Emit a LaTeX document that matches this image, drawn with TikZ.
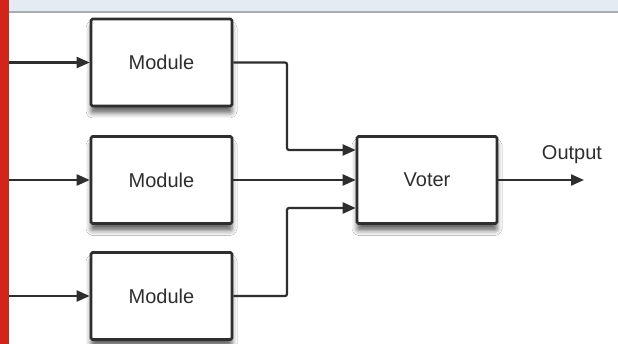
\documentclass[tikz,border=0pt]{standalone}
\usepackage{fontspec}
\setmainfont{Liberation Sans}
\usetikzlibrary{arrows.meta,shadows.blur,calc}
\definecolor{band}{HTML}{E5EBF2}
\definecolor{bandline}{HTML}{A8ACB0}
\definecolor{redbar}{HTML}{D3241A}
\definecolor{ink}{HTML}{2E2E2E}
\tikzset{
  box/.style={draw=ink, line width=2.6pt, fill=white, minimum width=141pt, minimum height=87pt,
    inner sep=0pt, rounded corners=1.5pt, text=ink, font=\fontsize{20}{24}\selectfont,
    blur shadow={shadow xshift=0pt, shadow yshift=-7pt, shadow blur radius=5pt, shadow opacity=60}},
  arr/.style={draw=ink, line width=2.2pt, rounded corners=2pt, -{Triangle[length=13pt,width=11pt]}},
  lbl/.style={text=ink, font=\fontsize{20}{24}\selectfont, inner sep=0pt}
}
\begin{document}
\begin{tikzpicture}[x=1pt,y=-1pt]
\useasboundingbox (0,0) rectangle (618,344);
\fill[white] (0,0) rectangle (618,344);
\fill[band] (0,0) rectangle (618,11);
\fill[bandline] (0,11) rectangle (618,13.5);
\fill[redbar] (0,0) rectangle (8.5,344);
\node[box] (m1) at (161.5,62.5) {Module};
\node[box] (m2) at (161.5,180) {Module};
\node[box] (m3) at (161.5,296) {Module};
\node[box, minimum width=140pt] (voter) at (427,180) {Voter};
\coordinate (in1) at (9,62.5);
\coordinate (in2) at (9,180);
\coordinate (in3) at (9,296);
\coordinate (k1) at (287,150);
\coordinate (k3) at (287,208);
\coordinate (vin1) at ($(voter.west)+(0,-30)$);
\coordinate (vin3) at ($(voter.west)+(0,28)$);
\coordinate (out) at (584,180);
\draw[arr] (in1) -- (m1.west);
\draw[arr] (in2) -- (m2.west);
\draw[arr] (in3) -- (m3.west);
\draw[arr] (m1.east) -| (k1) -- (vin1);
\draw[arr] (m2.east) -- (voter.west);
\draw[arr] (m3.east) -| (k3) -- (vin3);
\draw[arr] (voter.east) -- (out);
\node[lbl] (outlbl) at (572,155) {Output};
\end{tikzpicture}
\end{document}
